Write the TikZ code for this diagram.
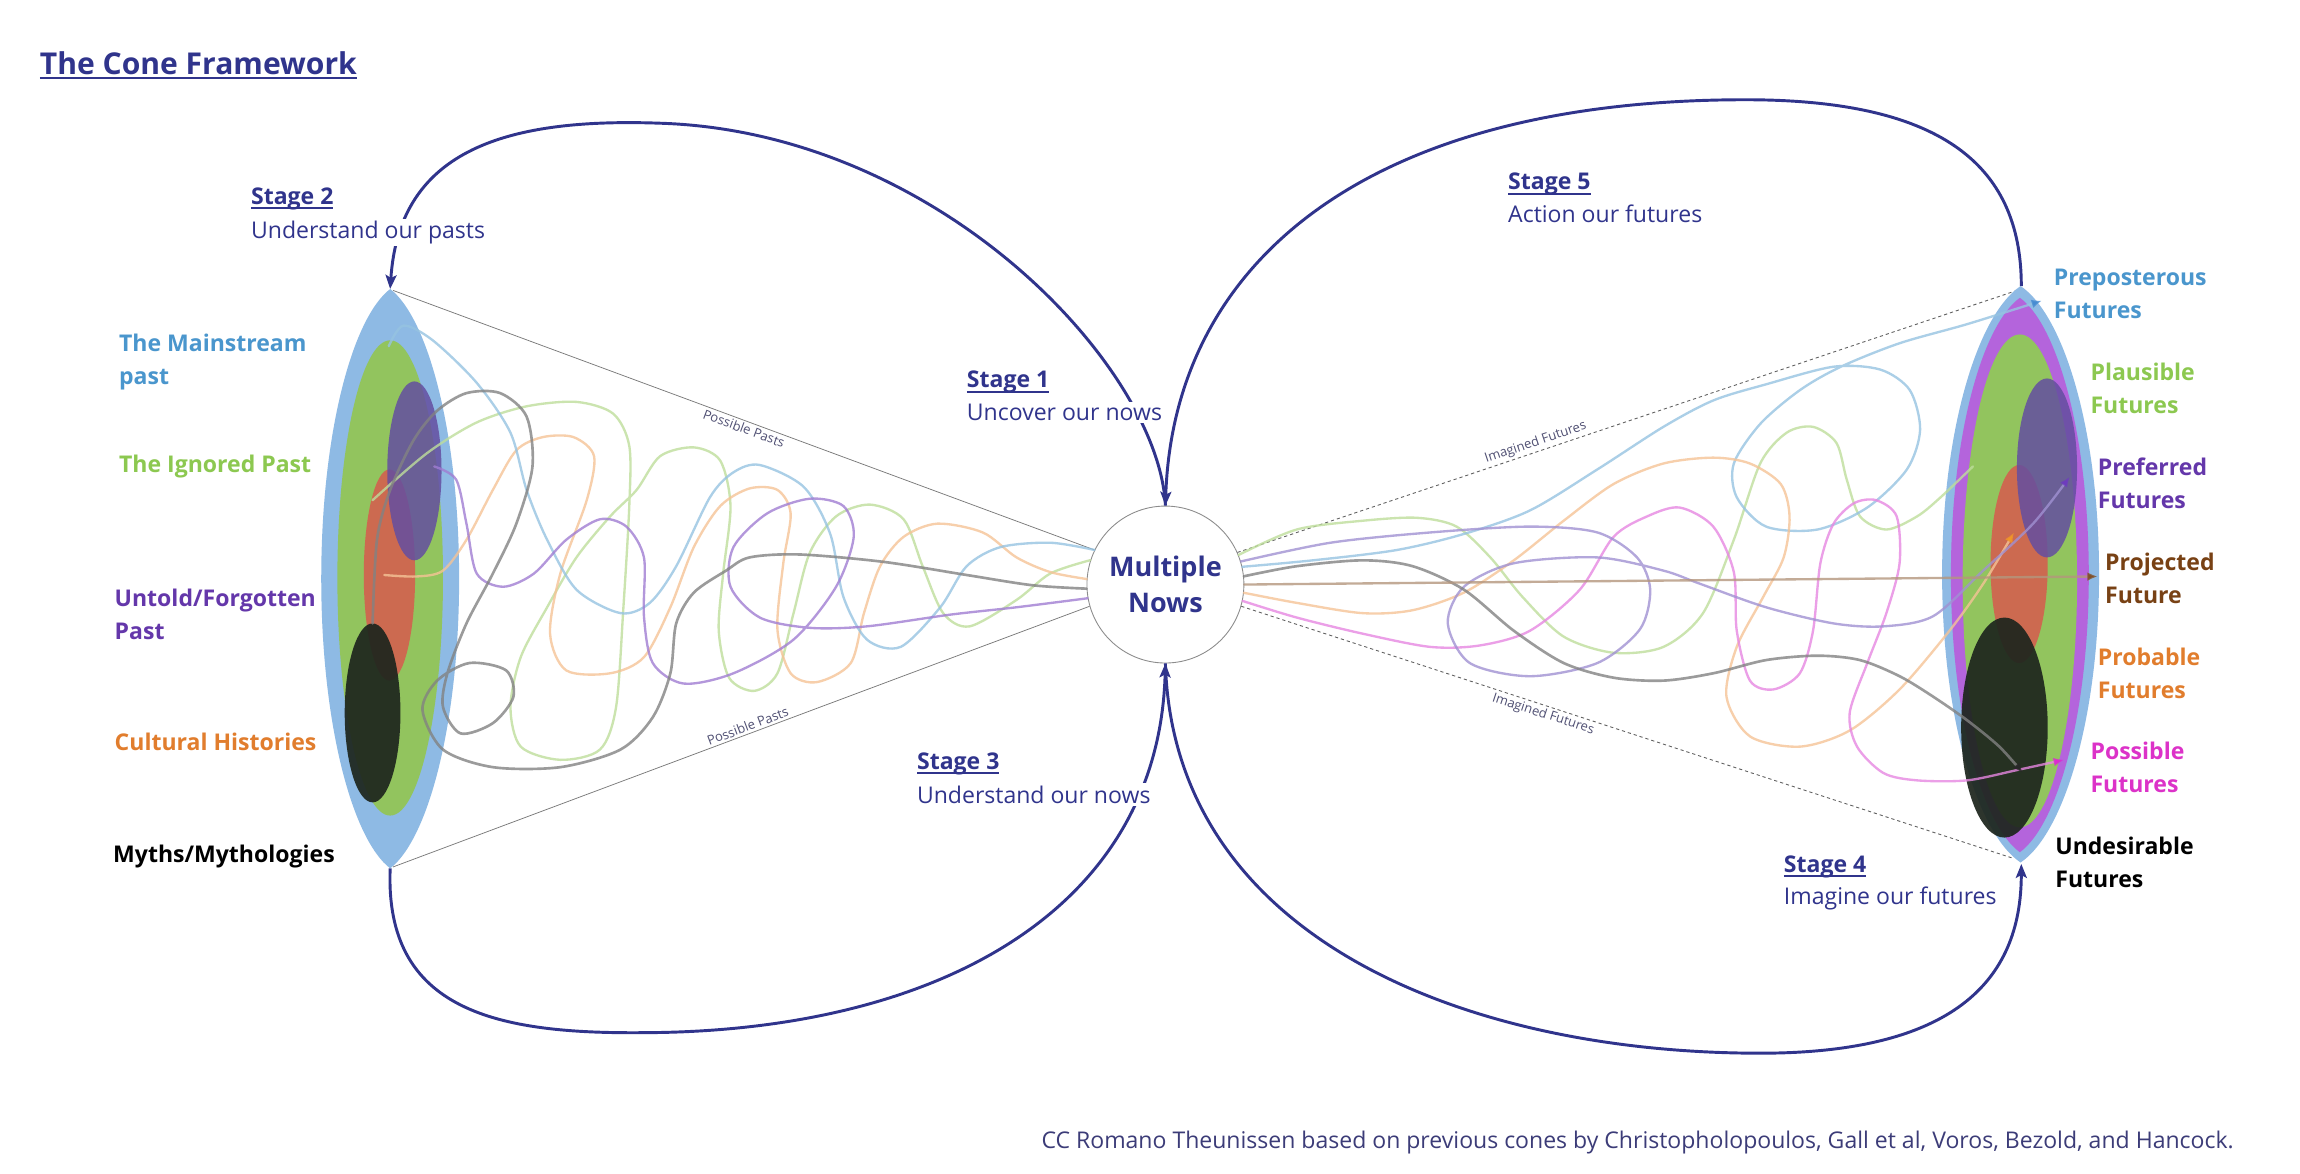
\documentclass[tikz,border=0pt]{standalone}
\usepackage{fontspec}
\setmainfont{Open Sans}
\usetikzlibrary{arrows.meta}
\definecolor{navy}{RGB}{48,52,140}
\definecolor{circgray}{RGB}{140,140,140}
\definecolor{conegray}{RGB}{120,120,120}
\definecolor{conetext}{RGB}{80,80,115}
\definecolor{lensblue}{RGB}{142,186,228}
\definecolor{lensgreen}{RGB}{146,196,94}
\definecolor{lensmag}{RGB}{180,100,220}
\definecolor{lenspurple}{RGB}{100,78,160}
\definecolor{lensorange}{RGB}{204,106,80}
\definecolor{lensblack}{RGB}{30,38,30}
\definecolor{sqblue}{RGB}{150,195,225}
\definecolor{sqgreen}{RGB}{190,222,155}
\definecolor{sqorange}{RGB}{245,195,150}
\definecolor{sqpurple}{RGB}{160,125,210}
\definecolor{sqlav}{RGB}{160,145,210}
\definecolor{sqgray}{RGB}{130,130,130}
\definecolor{sqbrown}{RGB}{180,150,125}
\definecolor{sqpink}{RGB}{230,135,225}
\definecolor{tipblue}{RGB}{70,140,210}
\definecolor{tiporange}{RGB}{240,150,40}
\definecolor{tippink}{RGB}{220,40,210}
\definecolor{tippurple}{RGB}{110,60,190}
\definecolor{tipgray}{RGB}{40,40,40}
\definecolor{tipbrown}{RGB}{130,80,40}
\definecolor{tblue}{RGB}{74,150,205}
\definecolor{tgreen}{RGB}{140,200,80}
\definecolor{tpurple}{RGB}{100,55,170}
\definecolor{torange}{RGB}{225,125,45}
\definecolor{tbrown}{RGB}{120,65,20}
\definecolor{tpink}{RGB}{220,50,200}
\definecolor{credit}{RGB}{60,60,120}
\newcommand{\stul}[2][1.3pt]{\setbox0\hbox{#2}\rlap{\vrule height -1.8pt depth \dimexpr1.8pt+#1\relax width \wd0}\box0}
\tikzset{
  navyloop/.style={draw=navy, line width=2pt},
  loophead/.style={-{Stealth[length=9.5pt,width=7.5pt,inset=2pt]}},
  stagehead/.style={anchor=base west, inner xsep=0pt, inner ysep=1pt, text=navy, font=\bfseries\fontsize{15.7}{19}\selectfont},
  stagetext/.style={anchor=base west, inner xsep=0pt, inner ysep=1.5pt, fill=white, text=navy, font=\fontsize{15.7}{19}\selectfont},
  sidelbl/.style={anchor=west, align=left, inner sep=0pt, font=\bfseries\fontsize{15.7}{22.5}\selectfont},
  conelbl/.style={font=\fontsize{8.9}{10}\selectfont, text=conetext, inner sep=1.5pt, sloped},
  conel/.style={draw=conegray, line width=0.5pt},
  coned/.style={draw=conegray!80!black, line width=0.6pt, dash pattern=on 2.2pt off 2pt},
  sq/.style={line width=1.6pt, draw opacity=0.8, line cap=round, line join=round},
  sqtip/.style={-{Latex[length=7pt,width=6pt,color=#1]}},
}
\begin{document}
\begin{tikzpicture}[x=1pt,y=-1pt]
\useasboundingbox (0,0) rectangle (1568,800);
\fill[white] (0,0) rectangle (1568,800);

% title
\node[anchor=west, inner sep=0pt, text=navy, font=\bfseries\fontsize{20.5}{24}\selectfont] (title) at (27,44.5) {\stul[1.6pt]{The Cone Framework}};

% central node
\node[circle, draw=circgray, line width=0.6pt, fill=white, minimum size=107pt, inner sep=0pt, align=center, text=navy, font=\bfseries\fontsize{18.4}{25}\selectfont] (now) at (794.5,398.5) {Multiple\\Nows};

\coordinate (Ltop) at (266,197);
\coordinate (Lbot) at (266,592);
\coordinate (Rtop) at (1378,195);
\coordinate (Rbot) at (1378,589);

% big stage loops
\draw[navyloop, loophead] (now.north) .. controls (790,250) and (640,90) .. (450,84) .. controls (340,80) and (272,105) .. (Ltop);
\draw[navyloop, loophead] (Rtop) .. controls (1378,110) and (1320,68) .. (1190,68) .. controls (930,68) and (800,180) .. (now.north);
\draw[navyloop, loophead] (Lbot) .. controls (262,690) and (340,705) .. (440,704) .. controls (640,703) and (790,620) .. (now.south);
\draw[navyloop, loophead] (now.south) .. controls (800,640) and (1000,718) .. (1200,718) .. controls (1330,718) and (1378,670) .. (Rbot);

% stage labels
\node[stagehead] (s2h) at (171,139.5) {\stul{Stage 2}};
\node[stagetext] (s2t) at (171,162.5) {Understand our pasts};
\node[stagehead] (s1h) at (659,264.5) {\stul{Stage 1}};
\node[stagetext] (s1t) at (659,286.5) {Uncover our nows};
\node[stagehead] (s5h) at (1028,129.5) {\stul{Stage 5}};
\node[stagetext] (s5t) at (1028,151.5) {Action our futures};
\node[stagehead] (s3h) at (625,524.5) {\stul{Stage 3}};
\node[stagetext] (s3t) at (625,547.5) {Understand our nows};
\node[stagehead] (s4h) at (1216,594.5) {\stul{Stage 4}};
\node[stagetext] (s4t) at (1216,616.5) {Imagine our futures};

% cone lines
\coordinate (Lct) at (268,198);
\coordinate (Lcb) at (268,591);
\coordinate (Rct) at (1378,197);
\coordinate (Rcb) at (1372,585);
\draw[conel] (Lct) -- node[conelbl, below, pos=0.504] (pp1) {Possible Pasts} (now.154);
\draw[conel] (Lcb) -- node[conelbl, above, pos=0.513] (pp2) {Possible Pasts} (now.196);
\draw[coned] (now.24) -- node[conelbl, above, pos=0.384] (if1) {Imagined Futures} (Rct);
\draw[coned] (now.-16) -- node[conelbl, below, pos=0.395] (if2) {Imagined Futures} (Rcb);

% left cone
\fill[lensblue] (266,197) .. controls (292,217) and (313,296) .. (313,394.5) .. controls (313,493) and (292,572) .. (266,592) .. controls (240,572) and (219,493) .. (219,394.5) .. controls (219,296) and (240,217) .. cycle;
\fill[lensgreen] (266,394) ellipse [x radius=36, y radius=162];
\fill[lensorange] (265.5,392) ellipse [x radius=17.5, y radius=72];
\fill[lenspurple, fill opacity=0.85] (282.5,321) ellipse [x radius=18.5, y radius=61];
\fill[lensblack, fill opacity=0.93] (254,486) ellipse [x radius=19, y radius=61];

% right cone
\fill[lensblue] (1377.5,195) .. controls (1406.9,214.7) and (1431,293.5) .. (1431,391.5) .. controls (1431,489.5) and (1406.9,568.3) .. (1377.5,588) .. controls (1348.1,568.3) and (1324,489.5) .. (1324,391.5) .. controls (1324,293.5) and (1348.1,214.7) .. cycle;
\fill[lensmag] (1377,203) .. controls (1402.9,221.9) and (1424,297.5) .. (1424,392) .. controls (1424,486.5) and (1402.9,562.1) .. (1377,581) .. controls (1351.1,562.1) and (1330,486.5) .. (1330,392) .. controls (1330,297.5) and (1351.1,221.9) .. cycle;
\fill[lensgreen] (1377,396) ellipse [x radius=39, y radius=168];
\fill[lensorange] (1376.5,384.5) ellipse [x radius=19.5, y radius=67.5];
\fill[lenspurple, fill opacity=0.85] (1395.5,319) ellipse [x radius=20.5, y radius=61];
\fill[lensblack, fill opacity=0.93] (1366.5,496) ellipse [x radius=29.5, y radius=75];

% left squiggles (possible pasts)
\draw[sq, draw=sqgreen] plot[smooth] coordinates {(now.162) (716,391) (693,409) (661,427) (643,418) (629,386) (616,354) (593,344) (570,352) (552,377) (541,418) (530,459) (514,471) (497,462) (490,430) (493,391) (498,345) (491,314) (473,305) (450,311) (434,334) (416,352) (393,380) (373,414) (355,448) (348,482) (355,509) (382,518) (409,511) (420,482) (425,414) (429,345) (429,304) (418,282) (393,274) (359,277) (325,288) (291,309) (254,341)};
\draw[sq, draw=sqorange] plot[smooth] coordinates {(now.176) (716,390) (693,380) (670,363) (639,357) (616,366) (600,386) (589,418) (580,452) (557,465) (539,459) (530,429) (534,384) (539,350) (530,334) (511,333) (491,345) (473,373) (457,414) (439,448) (416,459) (386,457) (375,432) (382,391) (400,341) (405,311) (391,298) (370,298) (352,307) (336,334) (318,368) (302,389) (284,393) (262,392)};
\draw[sq, draw=sqblue] plot[smooth] coordinates {(now.154) (716,370) (682,373) (659,386) (641,414) (614,441) (591,436) (575,407) (566,364) (548,332) (518,317) (500,322) (484,339) (461,386) (443,411) (423,418) (393,402) (373,368) (359,334) (348,295) (325,261) (295,232) (275,222) (265,236)};
\draw[sq, draw=sqpurple] plot[smooth] coordinates {(now.190) (693,414) (648,419) (591,427) (552,428) (518,421) (498,400) (500,373) (523,350) (552,340) (575,345) (582,366) (570,400) (541,436) (500,459) (466,466) (445,452) (439,420) (439,380) (427,359) (409,354) (386,368) (364,391) (343,400) (325,391) (318,357) (311,327) (296,318)};
\draw[sq, draw=sqgray, line width=1.8pt] plot[smooth] coordinates {(now.183) (704,399) (659,392) (602,383) (545,378) (511,380) (495,389) (473,404) (461,425) (457,459) (445,489) (423,511) (382,523) (336,523) (302,511) (288,484) (298,464) (320,452) (345,457) (350,475) (336,493) (314,500) (302,482) (305,459) (318,425) (336,391) (352,357) (363,318) (359,284) (341,268) (318,268) (298,280) (282,300) (266,334) (257,368) (254,425)};

% right squiggles (imagined futures)
\draw[sq, draw=sqgreen] plot[smooth] coordinates {(now.22) (884,361) (929,355) (966,353) (993,359) (1016,380) (1038,407) (1066,434) (1100,445) (1134,441) (1161,418) (1182,368) (1200,316) (1218,295) (1236,291) (1252,302) (1259,327) (1268,352) (1286,361) (1307,352) (1323,339) (1345,318)};
\draw[sq, draw=sqblue, sqtip=tipblue] plot[smooth] coordinates {(now.13) (895,382) (952,375) (998,364) (1043,348) (1089,320) (1134,291) (1168,273) (1204,262) (1250,250) (1282,252) (1302,266) (1309,293) (1300,320) (1273,346) (1239,361) (1204,359) (1184,339) (1182,316) (1200,289) (1227,266) (1255,250) (1295,234) (1341,221) (1392,205)};
\draw[sq, draw=sqorange, sqtip=tiporange] plot[smooth] coordinates {(now.-6) (884,411) (929,418) (963,416) (998,404) (1032,382) (1066,355) (1100,330) (1134,316) (1168,312) (1193,316) (1214,330) (1220,352) (1216,380) (1202,407) (1184,441) (1177,475) (1193,502) (1227,509) (1261,498) (1295,470) (1329,430) (1352,398) (1373,363)};
\draw[sq, draw=sqpink, sqtip=tippink] plot[smooth] coordinates {(now.-12) (884,421) (929,432) (975,441) (1009,440) (1043,430) (1077,402) (1100,366) (1123,352) (1145,346) (1168,359) (1182,390) (1184,430) (1193,464) (1209,470) (1227,459) (1236,430) (1241,384) (1250,357) (1264,343) (1279,341) (1293,352) (1295,384) (1286,418) (1273,452) (1261,486) (1266,509) (1284,527) (1307,532) (1341,532) (1375,525) (1407,518)};
\draw[sq, draw=sqlav, sqtip=tippurple] plot[smooth] coordinates {(now.17) (907,370) (975,363) (1043,359) (1089,363) (1116,380) (1125,402) (1118,429) (1089,452) (1043,461) (1002,452) (987,425) (998,400) (1032,384) (1089,380) (1134,389) (1159,398) (1204,414) (1250,425) (1284,427) (1318,420) (1352,389) (1386,357) (1411,325)};
\draw[sq, draw=sqgray, line width=1.8pt, sqtip=tipgray] plot[smooth] coordinates {(now.6) (884,386) (929,382) (963,386) (998,402) (1032,430) (1066,452) (1100,462) (1134,464) (1168,459) (1204,450) (1239,447) (1268,450) (1295,461) (1318,475) (1341,491) (1363,509) (1379,527)};
\draw[sq, draw=sqbrown, sqtip=tipbrown] (now.0) -- (1430,393);

% left labels
\node[sidelbl, text=tblue] (lmain) at (81,247) {The Mainstream\\past};
\node[sidelbl, text=tgreen] (lign) at (81,318) {The Ignored Past};
\node[sidelbl, text=tpurple] (lunt) at (78,419) {Untold/Forgotten\\Past};
\node[sidelbl, text=torange] (lcul) at (78,506) {Cultural Histories};
\node[sidelbl, text=black] (lmyth) at (77,584) {Myths/Mythologies};

% right labels
\node[sidelbl, text=tblue] (rprep) at (1400,200.5) {Preposterous\\Futures};
\node[sidelbl, text=tgreen] (rplau) at (1425,265) {Plausible\\Futures};
\node[sidelbl, text=tpurple] (rpref) at (1430,329.5) {Preferred\\Futures};
\node[sidelbl, text=tbrown] (rproj) at (1435,394) {Projected\\Future};
\node[sidelbl, text=torange] (rprob) at (1430,459) {Probable\\Futures};
\node[sidelbl, text=tpink] (rposs) at (1425,523) {Possible\\Futures};
\node[sidelbl, text=black] (rund) at (1401,588) {Undesirable\\Futures};

% credits
\node[anchor=east, inner sep=0pt, text=credit, font=\fontsize{15.7}{18}\selectfont] (credits) at (1523,779) {CC Romano Theunissen based on previous cones by Christopholopoulos, Gall et al, Voros, Bezold, and Hancock.};
\end{tikzpicture}
\end{document}
